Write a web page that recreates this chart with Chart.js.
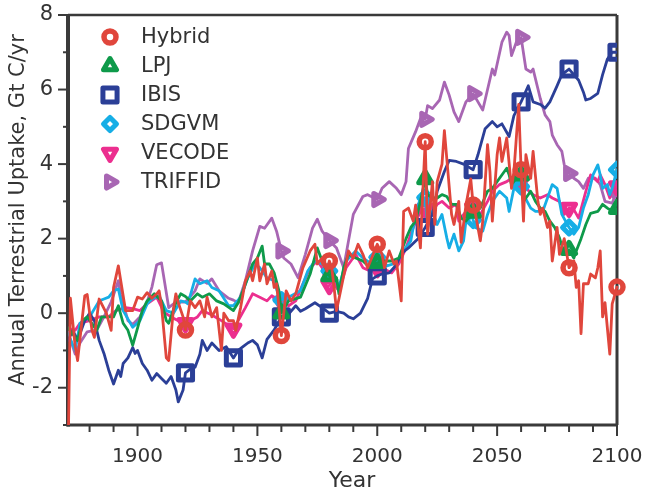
<!DOCTYPE html>
<html>
<head>
<meta charset="utf-8">
<script src="https://cdn.jsdelivr.net/npm/chart.js@4"></script>
<style>
  html, body { margin: 0; padding: 0; background: #ffffff; }
  #wrap { width: 646px; height: 494px; position: relative; }
</style>
</head>
<body>
<div id="wrap"><canvas id="c" width="646" height="494"></canvas></div>
<script>
// ---------- DATA ----------
const seriesNames = ["Hybrid", "LPJ", "IBIS", "SDGVM", "VECODE", "TRIFFID"];

const hybridYears = [1871,1872,1874,1875,1878,1879,1881,1882,1884,1887,1889,1890,1892,1893,1895,1898,1900,1902,1904,1906,1908,1909,1910,1912,1913,1915,1916,1917,1919,1920,1922,1924,1926,1928,1929,1931,1933,1935,1936,1938,1940,1941,1943,1945,1947,1948,1950,1951,1953,1954,1956,1957,1958,1959,1960,1962,1964,1966,1969,1972,1974,1975,1977,1979,1980,1981,1982,1983,1985,1987,1988,1990,1992,1994,1996,2000,2002,2003,2005,2007,2008,2010,2011,2013,2015,2016,2018,2019,2020,2021,2023,2024,2025,2027,2028,2029,2031,2032,2034,2035,2037,2039,2040,2041,2043,2044,2046,2047,2048,2050,2051,2052,2054,2056,2057,2059,2060,2061,2062,2064,2065,2067,2068,2069,2071,2072,2073,2075,2076,2078,2080,2082,2083,2084,2085,2086,2088,2089,2091,2092,2093,2094,2095,2097,2098,2100];
const hybridValues = [-4.0,0.4,-0.9,-1.27,0.47,0.5,-0.46,-0.65,0.38,0.0,-0.46,0.69,1.27,0.87,0.07,0.07,0.43,0.38,0.55,0.4,0.52,0.6,0.2,-1.2,-1.27,0.12,0.52,0.28,-0.1,-0.45,0.33,0.15,0.33,-0.1,0.43,-0.1,0.15,-1.0,0.0,-0.2,-0.2,-0.46,0.15,0.87,1.13,0.87,1.48,0.87,1.32,0.79,1.13,0.69,0.79,0.15,-0.6,0.6,0.33,0.52,1.22,1.67,1.85,1.32,1.48,1.13,1.4,1.22,0.69,0.07,0.69,1.32,1.67,1.48,1.85,1.58,1.22,1.85,1.58,1.22,1.67,1.32,1.4,0.33,2.73,2.82,2.47,2.9,1.75,3.27,4.6,2.12,3.53,2.38,3.53,4.0,4.9,4.15,2.65,2.38,3.0,1.9,2.9,3.6,2.9,2.65,1.94,2.47,4.52,3.8,2.47,4.25,4.7,4.07,4.7,3.35,3.8,5.6,3.85,2.47,4.25,3.62,4.34,3.0,2.65,2.82,2.3,2.47,1.4,2.3,1.58,2.0,1.22,1.4,0.69,0.87,-0.55,0.79,0.79,1.05,0.95,1.22,1.67,-0.1,0.28,-1.1,0.25,0.7];

const lpjYears = [1871,1875,1877,1879,1883,1885,1890,1892,1894,1896,1898,1900,1902,1904,1907,1910,1912,1913,1916,1918,1920,1922,1925,1927,1930,1933,1936,1940,1942,1944,1948,1950,1952,1953,1955,1957,1959,1960,1963,1968,1972,1975,1977,1980,1981,1983,1984,1986,1988,1991,1994,1997,2000,2002,2006,2009,2012,2014,2016,2018,2020,2021,2023,2025,2027,2029,2031,2033,2035,2037,2040,2043,2046,2048,2051,2054,2055,2056,2058,2060,2061,2064,2066,2068,2070,2072,2074,2076,2078,2080,2082,2083,2085,2087,2089,2092,2094,2096,2098,2100];
const lpjValues = [-0.4,-0.73,-0.2,-0.1,-0.46,-0.1,-0.1,0.2,-0.27,-0.46,-0.86,-0.4,0.07,0.33,0.52,0.33,-0.2,-0.27,0.28,0.52,0.45,0.33,0.52,0.43,0.52,0.33,0.25,0.07,0.28,0.6,1.32,1.48,1.8,1.32,1.32,1.08,0.6,0.0,0.33,0.43,1.05,1.75,1.4,1.0,0.95,0.95,0.52,1.22,1.58,1.48,1.4,1.22,1.35,1.4,1.4,1.48,2.0,2.3,2.47,3.0,3.6,3.18,3.09,3.09,3.18,3.13,2.92,2.92,2.55,2.47,2.7,2.82,3.27,3.35,3.62,3.89,3.71,3.45,3.62,3.7,3.0,3.27,3.0,2.82,2.73,2.47,2.3,2.02,1.6,1.7,1.48,1.67,2.0,2.38,2.68,2.73,2.92,2.82,2.73,2.8];

const ibisYears = [1871,1873,1875,1878,1880,1882,1884,1886,1888,1890,1892,1893,1894,1896,1898,1899,1900,1902,1904,1906,1908,1910,1912,1914,1916,1917,1919,1920,1922,1924,1926,1927,1929,1931,1934,1937,1940,1942,1944,1946,1948,1950,1952,1954,1957,1960,1962,1964,1966,1968,1970,1972,1974,1977,1980,1983,1986,1988,1990,1993,1996,1998,2000,2002,2005,2008,2010,2013,2017,2020,2023,2025,2028,2030,2033,2036,2040,2042,2045,2048,2050,2052,2055,2057,2060,2063,2065,2068,2070,2072,2075,2077,2080,2082,2084,2086,2087,2089,2092,2094,2096,2098,2100];
const ibisValues = [-0.73,-0.46,-0.73,-0.2,0.0,-0.2,-0.73,-1.08,-1.53,-1.9,-1.53,-1.7,-1.35,-1.2,-0.92,-1.08,-1.0,-1.35,-1.53,-1.8,-1.62,-1.75,-1.88,-1.7,-2.06,-2.38,-2.06,-1.6,-1.5,-1.45,-1.1,-0.73,-1.0,-0.8,-1.0,-0.9,-1.2,-1.0,-0.9,-0.8,-0.73,-0.85,-1.2,-0.7,-0.45,-0.1,-0.1,0.05,0.2,0.05,0.12,0.2,0.28,0.15,0.0,0.05,0.0,-0.1,-0.15,0.0,0.4,0.92,1.0,1.05,1.08,1.3,1.6,1.75,2.0,2.3,2.65,3.27,3.8,4.1,4.07,4.0,3.85,4.25,4.95,5.14,5.0,5.08,4.74,5.3,5.67,6.1,5.67,5.6,5.5,5.67,6.1,6.4,6.55,6.4,6.25,5.93,5.72,5.76,5.9,6.4,6.82,7.0,7.0];

const sdgvmYears = [1871,1874,1876,1880,1884,1886,1888,1890,1892,1894,1898,1901,1904,1906,1909,1912,1915,1918,1920,1921,1924,1926,1929,1931,1934,1938,1940,1943,1946,1949,1951,1954,1957,1959,1960,1963,1968,1971,1974,1977,1980,1981,1984,1987,1991,1994,1997,2000,2001,2004,2008,2011,2014,2016,2018,2020,2021,2023,2025,2027,2029,2030,2032,2034,2036,2037,2039,2040,2041,2044,2046,2048,2051,2054,2055,2057,2059,2060,2061,2064,2066,2069,2071,2073,2075,2077,2080,2082,2084,2086,2088,2090,2092,2093,2094,2096,2097,2098,2100];
const sdgvmValues = [-0.55,-1.0,-0.27,-0.1,0.33,0.38,0.43,0.6,0.65,0.07,-0.38,-0.2,0.25,0.38,0.47,0.07,0.0,0.33,0.3,0.25,0.92,0.79,0.87,0.69,0.6,0.2,0.2,0.43,0.95,1.32,1.22,0.95,0.87,0.43,0.35,0.43,0.6,1.13,1.4,1.32,1.13,1.22,0.69,1.4,1.67,1.48,1.35,1.5,1.58,1.27,1.35,1.67,1.94,2.65,3.1,3.1,2.3,2.73,2.38,2.65,2.02,1.75,2.12,1.67,1.94,2.47,2.73,2.5,2.3,2.2,2.65,3.0,3.27,3.09,2.73,3.35,3.8,3.4,3.18,2.82,2.73,2.73,3.09,3.45,3.35,2.65,2.3,2.12,2.3,2.82,3.18,3.71,3.98,3.71,3.35,3.45,3.18,3.35,3.85];

const vecodeYears = [1871,1874,1876,1880,1884,1888,1891,1895,1898,1901,1904,1908,1911,1914,1917,1920,1925,1927,1931,1935,1940,1942,1945,1948,1951,1954,1956,1959,1960,1963,1966,1969,1972,1975,1977,1979,1980,1981,1984,1987,1991,1994,1997,2000,2002,2006,2009,2012,2015,2018,2020,2022,2025,2027,2030,2033,2034,2037,2040,2043,2046,2048,2051,2054,2056,2060,2062,2065,2068,2071,2073,2076,2078,2080,2082,2084,2087,2089,2092,2093,2095,2097,2098,2100];
const vecodeValues = [-0.4,-0.46,-0.27,-0.2,-0.1,-0.1,0.07,0.15,0.12,0.07,0.25,0.43,0.03,-0.1,-0.2,-0.27,-0.1,0.07,-0.05,-0.2,-0.42,-0.2,0.15,0.52,0.43,0.33,0.47,0.33,0.3,0.2,0.33,0.79,1.22,1.4,1.22,0.69,0.75,0.87,0.6,1.22,1.58,1.22,1.13,1.2,1.22,1.08,1.32,1.75,2.3,2.73,2.8,2.65,2.92,3.0,2.82,2.92,2.47,2.73,2.82,2.65,3.0,3.27,3.45,3.53,3.62,3.53,3.35,3.18,3.09,3.18,3.09,3.0,2.65,2.82,2.78,2.55,3.27,3.71,3.53,3.71,3.45,3.09,3.35,3.4];

const triffidYears = [1871,1874,1876,1879,1883,1886,1889,1892,1893,1896,1898,1901,1904,1906,1908,1910,1913,1916,1920,1924,1926,1929,1931,1934,1938,1940,1942,1945,1948,1951,1953,1956,1958,1960,1961,1964,1967,1970,1973,1975,1977,1980,1983,1986,1988,1990,1994,1996,2000,2002,2005,2008,2010,2012,2013,2016,2018,2020,2021,2023,2026,2028,2030,2032,2034,2037,2040,2042,2044,2048,2049,2052,2054,2055,2056,2058,2060,2062,2064,2065,2068,2070,2072,2073,2075,2077,2078,2080,2082,2084,2086,2088,2091,2093,2095,2098,2100];
const triffidValues = [-0.5,-1.1,-0.8,-0.5,-0.45,-0.1,0.3,0.87,0.5,-0.2,-0.3,-0.1,0.3,0.7,1.3,1.35,0.15,0.3,0.3,0.6,0.92,0.8,0.92,0.6,0.4,0.35,0.28,0.87,1.67,2.33,2.28,2.55,2.2,1.67,1.48,1.32,0.95,1.58,2.28,2.52,2.2,1.95,1.75,1.22,1.94,2.65,3.13,3.18,3.05,3.35,3.53,3.35,3.18,3.53,4.42,4.87,5.22,5.2,5.57,5.49,5.72,6.2,5.85,5.4,5.14,5.67,5.89,5.67,5.45,6.55,6.39,7.27,7.54,7.45,6.91,7.27,7.4,6.55,6.47,6.55,5.76,5.32,5.14,4.78,4.52,4.34,3.98,3.75,3.62,3.53,3.35,3.62,3.62,3.45,3.0,2.95,3.3];

// years that carry a marker, per series
const hybridMarkerYears = [1920, 1960, 1980, 2000, 2020, 2040, 2060, 2080, 2100];
const lpjMarkerYears = [1960, 1980, 2000, 2020, 2040, 2060, 2080, 2100];
const ibisMarkerYears = [1920, 1940, 1960, 1980, 2000, 2020, 2040, 2060, 2080, 2100];
const sdgvmMarkerYears = [1960, 1980, 2000, 2020, 2040, 2060, 2080, 2100];
const vecodeMarkerYears = [1920, 1940, 1960, 1980, 2000, 2020, 2040, 2060, 2080, 2100];
const triffidMarkerYears = [1960, 1980, 2000, 2020, 2040, 2060, 2080, 2100];

const xTickLabels = [1900, 1950, 2000, 2050, 2100];
const yTickLabels = [-2, 0, 2, 4, 6, 8];
const xTitle = "Year";
const yTitle = "Annual Terrestrial Uptake, Gt C/yr";

// ---------- STYLE ----------
const colors = ["#e0463c", "#0e9a4a", "#2b3f97", "#16aee6", "#ec2f8f", "#a866b3"];
const markerStyles = [
  { style: "circle", r: 6, rot: 0, bw: 5.5 },
  { style: "triangle", r: 7.5, rot: 0, bw: 5 },
  { style: "rect", r: 10, rot: 0, bw: 5 },
  { style: "rectRot", r: 6.5, rot: 0, bw: 5 },
  { style: "triangle", r: 7.5, rot: 180, bw: 5 },
  { style: "triangle", r: 7, rot: 90, bw: 5 }
];
const textColor = "#333333";
const axisColor = "#3a3a3a";
const FONT = "'DejaVu Sans', 'Liberation Sans', Arial, sans-serif";

function zip(xs, ys) { return xs.map((x, i) => ({ x: x, y: ys[i] })); }
const allYears = [hybridYears, lpjYears, ibisYears, sdgvmYears, vecodeYears, triffidYears];
const allValues = [hybridValues, lpjValues, ibisValues, sdgvmValues, vecodeValues, triffidValues];
const allMarkerYears = [hybridMarkerYears, lpjMarkerYears, ibisMarkerYears, sdgvmMarkerYears, vecodeMarkerYears, triffidMarkerYears];

const datasets = seriesNames.map((name, i) => {
  const m = markerStyles[i];
  const mk = allMarkerYears[i];
  const ds = {
    label: name,
    data: zip(allYears[i], allValues[i]),
    borderColor: colors[i],
    backgroundColor: "rgba(0,0,0,0)",
    borderWidth: 2.8,
    borderJoinStyle: "round",
    borderCapStyle: "round",
    tension: 0,
    pointStyle: m.style,
    pointRotation: m.rot,
    pointBorderWidth: m.bw,
    pointBorderColor: colors[i],
    pointBackgroundColor: "rgba(0,0,0,0)",
    pointRadius: (ctx) => (ctx.raw && mk.includes(ctx.raw.x)) ? m.r : 0,
    pointHoverRadius: 0
  };
  if (i === 0) ds.clip = { left: 12, top: 12, right: 14, bottom: 0 };
  return ds;
});

// ---------- PLUGIN: frame, ticks, legend, titles ----------
const decor = {
  id: "decor",
  beforeDatasetsDraw(chart) {
    const { ctx, chartArea: a, scales } = chart;
    ctx.save();
    ctx.strokeStyle = axisColor;
    ctx.lineCap = "butt";
    ctx.lineWidth = 2;
    for (let v = -3; v <= 8; v++) {
      const y = scales.y.getPixelForValue(v);
      const len = (v % 2 === 0) ? 10 : 5;
      ctx.beginPath(); ctx.moveTo(a.left - len, y); ctx.lineTo(a.left, y); ctx.stroke();
    }
    for (let v = 1880; v <= 2100; v += 10) {
      const x = scales.x.getPixelForValue(v);
      const len = (v % 50 === 0) ? 11 : 7;
      ctx.beginPath(); ctx.moveTo(x, a.bottom); ctx.lineTo(x, a.bottom + len); ctx.stroke();
    }
    ctx.lineWidth = 2.5;
    ctx.beginPath(); ctx.moveTo(a.left, a.top); ctx.lineTo(a.right, a.top); ctx.stroke();
    ctx.lineWidth = 3;
    ctx.beginPath(); ctx.moveTo(a.right, a.top); ctx.lineTo(a.right, a.bottom); ctx.stroke();
    ctx.beginPath(); ctx.moveTo(a.left - 1, a.bottom); ctx.lineTo(a.right + 1, a.bottom); ctx.stroke();
    ctx.lineWidth = 4;
    ctx.beginPath(); ctx.moveTo(a.left, a.top - 1); ctx.lineTo(a.left, a.bottom + 1.5); ctx.stroke();
    ctx.restore();
    ctx.lineJoin = "round";
  },
  afterDraw(chart) {
    const { ctx } = chart;
    ctx.save();
    ctx.lineJoin = "round";
    const lx = 110, tx = 141, y0 = 37, dy = 29;
    ctx.font = "21px " + FONT;
    ctx.textBaseline = "middle";
    ctx.textAlign = "left";
    seriesNames.forEach((name, i) => {
      const y = y0 + i * dy;
      const m = markerStyles[i];
      ctx.strokeStyle = colors[i];
      ctx.lineWidth = m.bw;
      ctx.fillStyle = "rgba(0,0,0,0)";
      Chart.helpers.drawPoint(ctx, { pointStyle: m.style, radius: m.r, rotation: m.rot, borderWidth: m.bw }, lx, y);
      ctx.fillStyle = textColor;
      ctx.fillText(name, tx, y + 1);
    });
    ctx.fillStyle = textColor;
    ctx.font = "22px " + FONT;
    ctx.textAlign = "center";
    ctx.textBaseline = "middle";
    ctx.fillText(xTitle, 352, 481);
    ctx.save();
    ctx.translate(19, 210);
    ctx.rotate(-Math.PI / 2);
    ctx.font = "21px " + FONT;
    ctx.fillText(yTitle, 0, 0);
    ctx.restore();
    ctx.restore();
  }
};

new Chart(document.getElementById("c"), {
  type: "line",
  data: { datasets: datasets },
  plugins: [decor],
  options: {
    responsive: false,
    animation: false,
    events: [],
    layout: { padding: { top: 14, right: 29, left: 0, bottom: 0 } },
    plugins: { legend: { display: false }, tooltip: { enabled: false }, title: { display: false } },
    scales: {
      x: {
        type: "linear",
        min: 1871,
        max: 2100,
        grid: { display: true, drawOnChartArea: false, drawTicks: false },
        border: { display: false },
        ticks: {
          stepSize: 10,
          includeBounds: false,
          autoSkip: false,
          maxRotation: 0,
          padding: 20,
          color: textColor,
          font: { family: FONT, size: 20 },
          callback: (v) => xTickLabels.includes(v) ? String(v) : ""
        },
        afterFit: (s) => { s.height = 69; s.paddingLeft = 0; s.paddingRight = 0; s.paddingTop = 0; s.paddingBottom = 0; }
      },
      y: {
        type: "linear",
        min: -3,
        max: 8,
        grid: { display: true, drawOnChartArea: false, drawTicks: false },
        border: { display: false },
        ticks: {
          stepSize: 1,
          includeBounds: false,
          autoSkip: false,
          padding: 15,
          color: textColor,
          font: { family: FONT, size: 21 },
          callback: (v) => yTickLabels.includes(v) ? String(v) : ""
        },
        afterFit: (s) => { s.width = 68; s.paddingLeft = 0; s.paddingRight = 0; s.paddingTop = 0; s.paddingBottom = 0; }
      }
    }
  }
});
</script>
</body>
</html>
